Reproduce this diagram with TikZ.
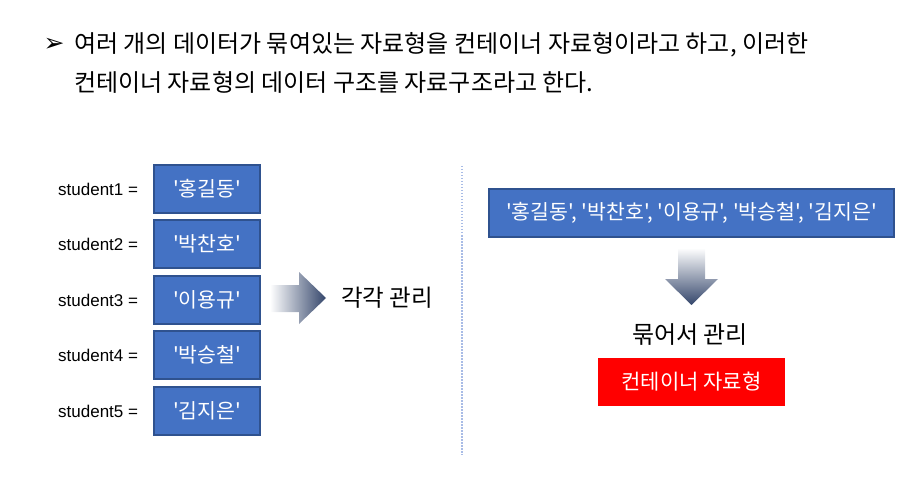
\documentclass[tikz,border=0pt]{standalone}
\usepackage{fontspec}
\setmainfont{Noto Sans CJK KR}[Ligatures=TeXOff]
\newfontfamily\latinfont{Liberation Sans}
\newfontfamily\symfont{DejaVu Sans}
\definecolor{boxblue}{HTML}{4472C4}
\definecolor{boxedge}{HTML}{2F528F}
\definecolor{arrowdark}{HTML}{34466B}
\definecolor{dotline}{HTML}{A9BCE6}
\begin{document}
\begin{tikzpicture}[x=1pt,y=-1pt,
  namebox/.style={draw=boxedge,line width=1.6pt,fill=boxblue,text=white,inner sep=0pt,
    font=\fontsize{20.5}{24}\selectfont},
  stlabel/.style={anchor=west,inner sep=0pt,font=\latinfont\fontsize{17}{20}\selectfont},
  bigtext/.style={inner sep=0pt,font=\fontsize{24}{28}\selectfont},
  toptext/.style={anchor=west,inner sep=0pt,font=\fontsize{24}{28}\selectfont}]
\useasboundingbox (0,0) rectangle (913,489);
% header
\node[inner sep=0pt,font=\symfont\fontsize{25}{28}\selectfont] (bul) at (54,45) {➢};
\node[toptext] (l1) at (74,45) {여러 개의 데이터가 묶여있는 자료형을 컨테이너 자료형이라고 하고, 이러한};
\node[toptext] (l2) at (74,82) {컨테이너 자료형의 데이터 구조를 자료구조라고 한다.};
% left column
\foreach \i/\y/\t in {1/189/홍길동,2/244/박찬호,3/300/이용규,4/355/박승철,5/411/김지은}{
  \node[stlabel] (s\i) at (58,\y) {student\i\ =};
  \node[namebox,minimum width=106pt,minimum height=48pt] (b\i) at (207,\y) {'\t'};
}
% right arrow
\shade[left color=white,right color=arrowdark]
  (270,285) -- (299,285) -- (299,272) -- (326,298) -- (299,324) -- (299,312) -- (270,312) -- cycle;
\node[bigtext,anchor=west,font=\fontsize{23.5}{28}\selectfont] (each) at (341,298) {각각 관리};
% divider
\draw[dotline,line width=1.2pt,dash pattern=on 1.5pt off 1.5pt] (462,166) -- (462,455);
% right column
\node[namebox,minimum width=405pt,minimum height=48pt] (all) at (691.5,213)
  {'홍길동', '박찬호', '이용규', '박승철', '김지은'};
\shade[top color=white,bottom color=arrowdark]
  (678,248) -- (705,248) -- (705,279) -- (718,279) -- (691.5,305) -- (665,279) -- (678,279) -- cycle;
\node[bigtext] (tog) at (690,335) {묶어서 관리};
\node[fill=red,text=white,inner sep=0pt,minimum width=187pt,minimum height=48pt,
  font=\fontsize{21}{24}\selectfont] (cont) at (691.5,382) {컨테이너 자료형};
\end{tikzpicture}
\end{document}
